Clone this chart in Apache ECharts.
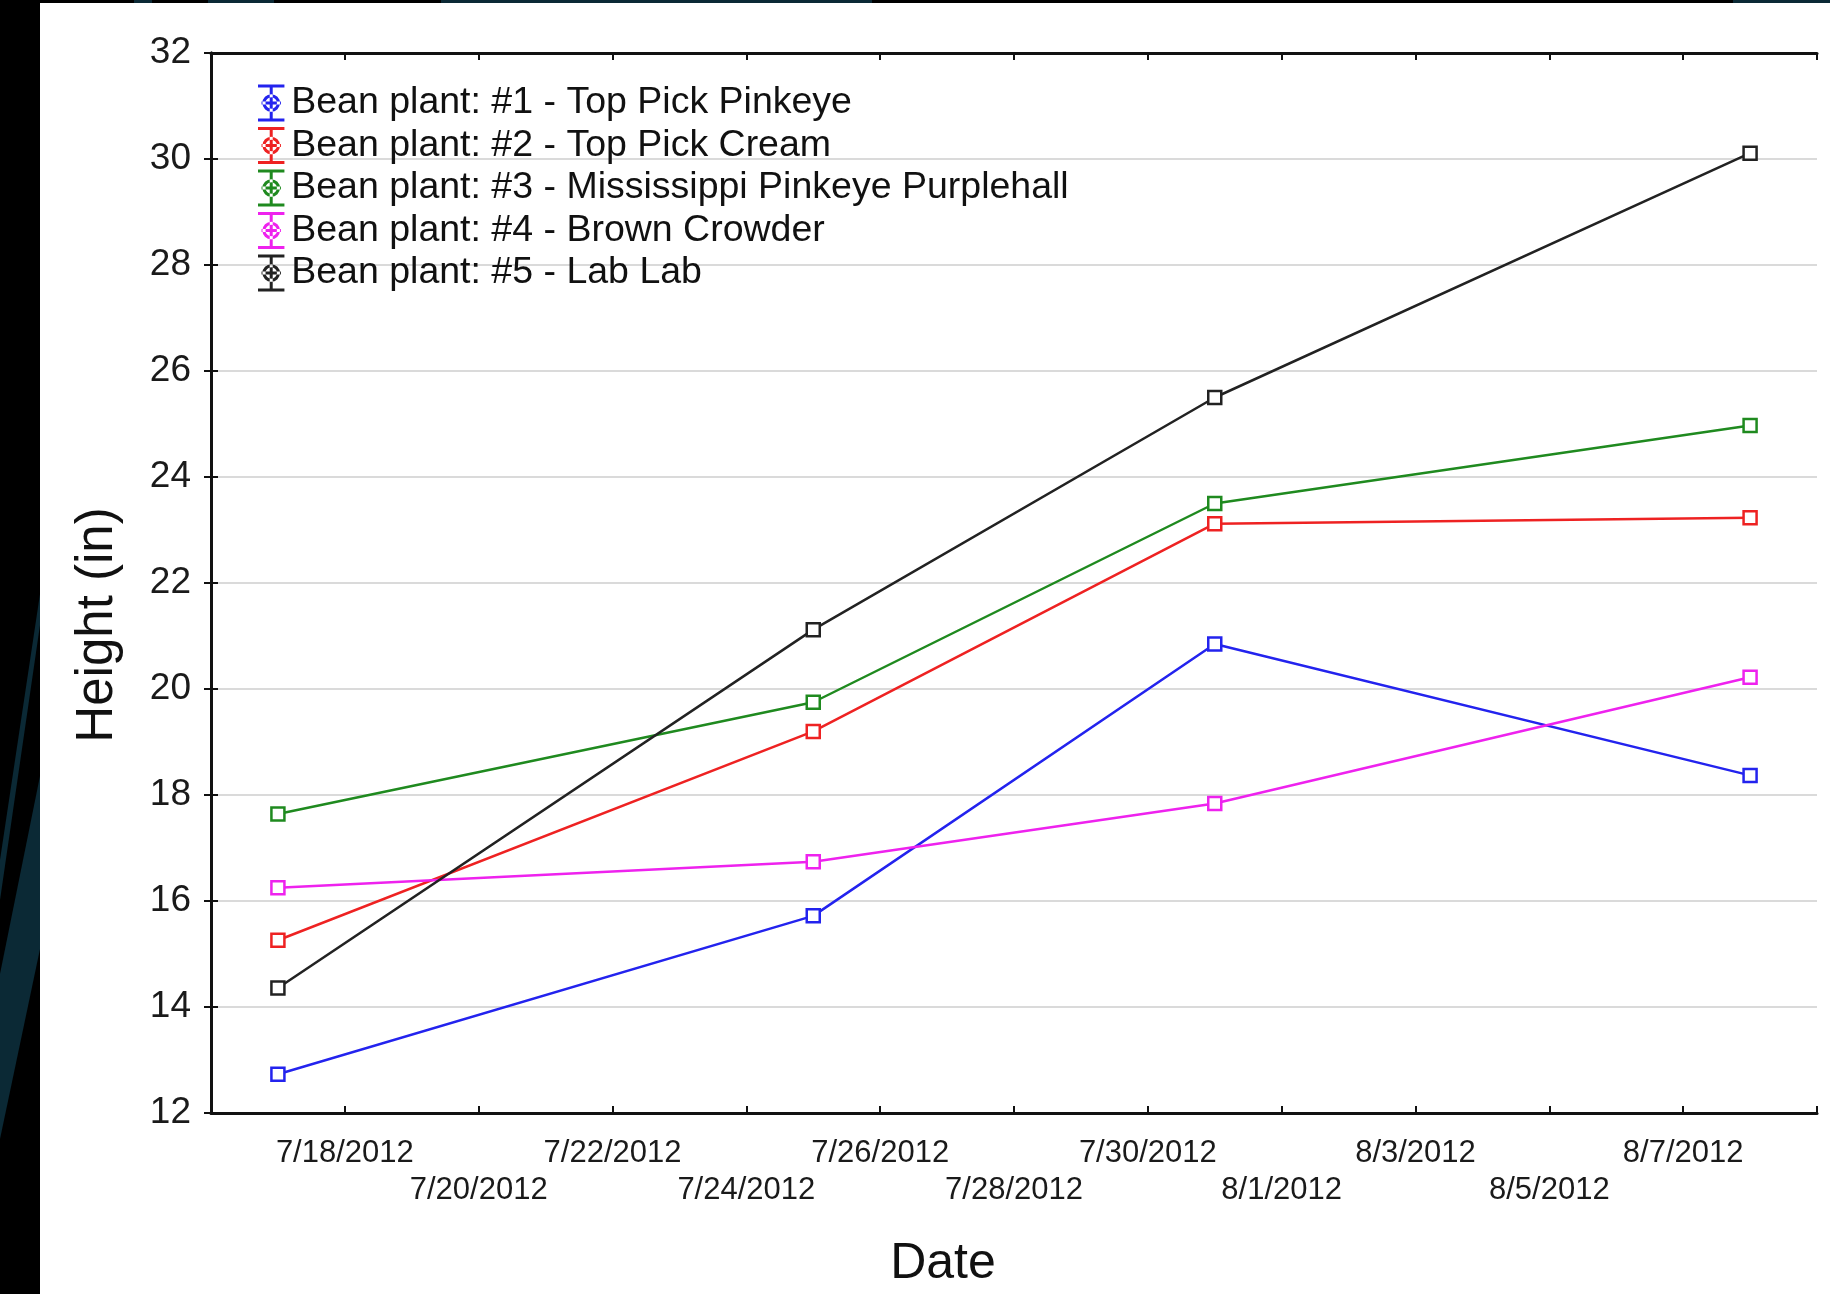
<!DOCTYPE html>
<html>
<head>
<meta charset="utf-8">
<script src="https://cdn.jsdelivr.net/npm/echarts@6/dist/echarts.min.js"></script>
<style>
  html, body { margin: 0; padding: 0; background: #000; }
  #chart { width: 1830px; height: 1294px; }
</style>
</head>
<body>
<div id="chart"></div>
<script>
// ---- data ----
const dates = ['7/17/2012', '7/25/2012', '7/31/2012', '8/8/2012'];
const seriesNames = [
  'Bean plant: #1 - Top Pick Pinkeye',
  'Bean plant: #2 - Top Pick Cream',
  'Bean plant: #3 - Mississippi Pinkeye Purplehall',
  'Bean plant: #4 - Brown Crowder',
  'Bean plant: #5 - Lab Lab'
];
const plant1 = [12.73, 15.72, 20.85, 18.37];
const plant2 = [15.26, 19.20, 23.12, 23.23];
const plant3 = [17.64, 19.75, 23.50, 24.97];
const plant4 = [16.25, 16.74, 17.84, 20.22];
const plant5 = [14.36, 21.12, 25.50, 30.11];
const xTickLabels = ['7/18/2012', '7/20/2012', '7/22/2012', '7/24/2012', '7/26/2012', '7/28/2012',
                     '7/30/2012', '8/1/2012', '8/3/2012', '8/5/2012', '8/7/2012'];
const xStartDate = '7/16/2012';
const xEndDate = '8/9/2012';
const yMin = 12, yMax = 32, yStep = 2;
const xStepDays = 2;
const colors = ['#2323ee', '#ee2222', '#1f8a1f', '#ee22ee', '#222222'];

function dayOffset(s) {
  const p = s.split('/').map(Number);
  const q = xStartDate.split('/').map(Number);
  return (Date.UTC(p[2], p[0] - 1, p[1]) - Date.UTC(q[2], q[0] - 1, q[1])) / 86400000;
}
const xMax = dayOffset(xEndDate);
const allValues = [plant1, plant2, plant3, plant4, plant5];

const FONT = '"Liberation Sans", Arial, sans-serif';
const icon = 'path://M0,0 h30 v3.5 h-30 z M0,38.5 h30 v3.5 h-30 z M13.3,3 h3.4 v36 h-3.4 z M4,19.3 h22 v3.4 h-22 z ' +
  'M25,21 A10,10 0 1,0 5,21 A10,10 0 1,0 25,21 Z M21.5,21 A6.5,6.5 0 1,1 8.5,21 A6.5,6.5 0 1,1 21.5,21 Z';

const series = allValues.map((vals, i) => ({
  name: seriesNames[i],
  type: 'line',
  data: vals.map((v, j) => [dayOffset(dates[j]), v]),
  symbol: 'rect',
  symbolSize: 13,
  showAllSymbol: true,
  lineStyle: { color: colors[i], width: 2.5 },
  itemStyle: { color: '#ffffff', borderColor: colors[i], borderWidth: 2.5 },
  emphasis: { disabled: true },
  animation: false
}));

function xLabel(v) {
  const i = Math.round(v / xStepDays) - 1;
  if (i < 0 || i >= xTickLabels.length) return '';
  return i % 2 === 0 ? xTickLabels[i] : '\n' + xTickLabels[i];
}

const axisLineStyle = { color: '#111', width: 3 };
const tickStyle = { show: true, inside: true, length: 7, lineStyle: { color: '#111', width: 2 } };

const option = {
  animation: false,
  backgroundColor: 'transparent',
  textStyle: { fontFamily: FONT },
  graphic: [
    { type: 'rect', shape: { x: 40, y: 3, width: 1790, height: 1291 }, style: { fill: '#ffffff' }, z: -10 },
    { type: 'rect', shape: { x: 134, y: 0, width: 18, height: 3 }, style: { fill: '#0b2935' }, z: -10 },
    { type: 'rect', shape: { x: 208, y: 0, width: 66, height: 3 }, style: { fill: '#0b2935' }, z: -10 },
    { type: 'rect', shape: { x: 441, y: 0, width: 431, height: 3 }, style: { fill: '#0b2935' }, z: -10 },
    { type: 'rect', shape: { x: 1733, y: 0, width: 97, height: 3 }, style: { fill: '#0b2935' }, z: -10 },
    { type: 'polygon', shape: { points: [[40, 594], [40, 625], [0, 900], [0, 860]] }, style: { fill: '#0b2935' }, z: -10 },
    { type: 'polygon', shape: { points: [[40, 776], [40, 949], [0, 1139], [0, 974]] }, style: { fill: '#0b2935' }, z: -10 }
  ],
  grid: { left: 211, right: 13, top: 53, bottom: 181, containLabel: false },
  legend: {
    orient: 'vertical',
    left: 258,
    top: 84,
    padding: 0,
    itemWidth: 30,
    itemHeight: 37,
    itemGap: 4.5,
    icon: icon,
    selectedMode: false,
    textStyle: { fontSize: 37.5, color: '#111', fontFamily: FONT },
    data: seriesNames.map((n, i) => ({ name: n, icon: icon, itemStyle: { color: colors[i], borderWidth: 0 } }))
  },
  xAxis: [
    {
      type: 'value', min: 0, max: xMax, interval: xStepDays, position: 'bottom',
      name: 'Date', nameLocation: 'middle', nameGap: 126,
      nameTextStyle: { fontSize: 50, color: '#111', padding: [0, 142, 0, 0], fontFamily: FONT },
      axisLine: { show: true, lineStyle: axisLineStyle },
      axisTick: tickStyle,
      axisLabel: {
        formatter: xLabel, fontSize: 31, color: '#1a1a1a', margin: 22, lineHeight: 37,
        showMinLabel: true, showMaxLabel: true, hideOverlap: false, fontFamily: FONT
      },
      splitLine: { show: false }
    },
    {
      type: 'value', min: 0, max: xMax, interval: xStepDays, position: 'top',
      axisLine: { show: true, lineStyle: axisLineStyle },
      axisTick: tickStyle,
      axisLabel: { show: false },
      splitLine: { show: false }
    }
  ],
  yAxis: [
    {
      type: 'value', min: yMin, max: yMax, interval: yStep, position: 'left',
      name: 'Height (in)', nameLocation: 'middle', nameGap: 88,
      nameTextStyle: { fontSize: 51, color: '#111', padding: [0, 84, 0, 0], fontFamily: FONT },
      axisLine: { show: true, lineStyle: axisLineStyle },
      axisTick: tickStyle,
      axisLabel: { fontSize: 37, color: '#1a1a1a', margin: 20, fontFamily: FONT },
      splitLine: { show: true, lineStyle: { color: '#dadada', width: 2 } }
    },
    {
      type: 'value', min: yMin, max: yMax, interval: yStep, position: 'right',
      axisLine: { show: true, lineStyle: axisLineStyle },
      axisTick: tickStyle,
      axisLabel: { show: false },
      splitLine: { show: false }
    }
  ],
  series: series
};

const chart = echarts.init(document.getElementById('chart'), null, { renderer: 'canvas' });
chart.setOption(option);
</script>
</body>
</html>
